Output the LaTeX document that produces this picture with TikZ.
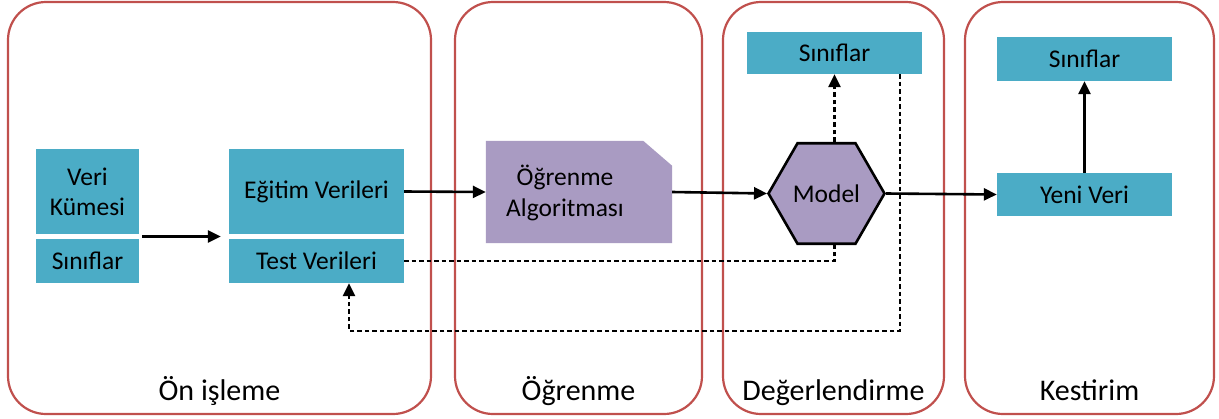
\documentclass[tikz,border=0pt]{standalone}
\usepackage{fontspec}
\setmainfont{Carlito}
\usetikzlibrary{arrows.meta,calc,shapes.geometric}
\definecolor{panelred}{HTML}{C0504D}
\definecolor{teal}{HTML}{4BACC6}
\definecolor{lilac}{HTML}{A99BC2}
\tikzset{
  panel/.style={draw=panelred, line width=2.2pt, rounded corners=38pt},
  tbox/.style={fill=teal, draw=none, inner sep=0pt, align=center, font=\fontsize{25.5}{30}\selectfont},
  plabel/.style={anchor=base, font=\fontsize{30}{34}\selectfont, inner sep=0pt},
  tip/.style={-{Triangle[length=13pt,width=12pt]}},
  arr/.style={line width=2.6pt, tip},
  dline/.style={line width=2.8pt, dash pattern=on 4.5pt off 3pt},
}
\begin{document}
\begin{tikzpicture}[x=1pt,y=-1pt]
\useasboundingbox (0,0) rectangle (1219,418);
% panels
\draw[panel] (8,2) rectangle (431,414);
\draw[panel] (455,2) rectangle (702,414);
\draw[panel] (723,2) rectangle (944,414);
\draw[panel] (965,2) rectangle (1214,414);
\node[plabel] (l1) at (219.5,400) {Ön işleme};
\node[plabel] (l2) at (578.5,400) {Öğrenme};
\node[plabel] (l3) at (833.5,400) {Değerlendirme};
\node[plabel] (l4) at (1089.5,400) {Kestirim};
% boxes
\node[tbox, minimum width=103pt, minimum height=85pt] (veri) at (87.5,191.5) {Veri\\Kümesi};
\node[tbox, minimum width=103pt, minimum height=44pt] (sin1) at (87.5,261) {Sınıflar};
\node[tbox, minimum width=175pt, minimum height=85pt] (egitim) at (316.5,191.5) {Eğitim Verileri};
\node[tbox, minimum width=175pt, minimum height=44pt] (test) at (316.5,261) {Test Verileri};
% learning algorithm shape
\node[minimum width=186pt, minimum height=102pt, inner sep=0pt] (alg) at (579,192) {};
\fill[lilac] (alg.south west) -- (alg.north west) -- ([xshift=-29pt]alg.north east) -- ([yshift=-25pt]alg.north east) -- (alg.south east) -- cycle;
\node[align=center, font=\fontsize{25.5}{31}\selectfont, inner sep=0pt] (algt) at (565,192.5) {Öğrenme\\Algoritması};
% model hexagon
\node[regular polygon, regular polygon sides=6, minimum size=116pt, inner sep=0pt, fill=lilac, draw=black, line width=2.6pt, font=\fontsize{25.5}{30}\selectfont] (model) at (826.5,193.5) {Model};
\node[tbox, minimum width=175pt, minimum height=42pt] (sin3) at (834.5,53) {Sınıflar};
\node[tbox, minimum width=175pt, minimum height=44pt] (sin4) at (1084.5,59) {Sınıflar};
\node[tbox, minimum width=175pt, minimum height=43pt] (yeni) at (1084.5,194.5) {Yeni Veri};
% connectors
\draw[arr] ($(veri.south east)!.5!(sin1.north east)+(3,0)$) -- ($(egitim.south west)!.5!(test.north west)+(-8,0)$);
\draw[arr] (egitim.east) -- (alg.west);
\draw[arr] (alg.east) -- (model.west);
\draw[arr] (model.east) -- (yeni.west);
\draw[arr] (yeni.north) -- (sin4.south);
\draw[dline, tip] (sin3.south |- model.north) -- (sin3.south);
\draw[dline] (test.east) -- (test.east -| sin3.south) -- (sin3.south |- model.south);
\coordinate (d1) at (900,331);
\coordinate (d2) at (349,331);
\draw[dline, tip] (sin3.south -| d1) -- (d1) -- (d2) -- (d2 |- test.south);
\end{tikzpicture}
\end{document}
